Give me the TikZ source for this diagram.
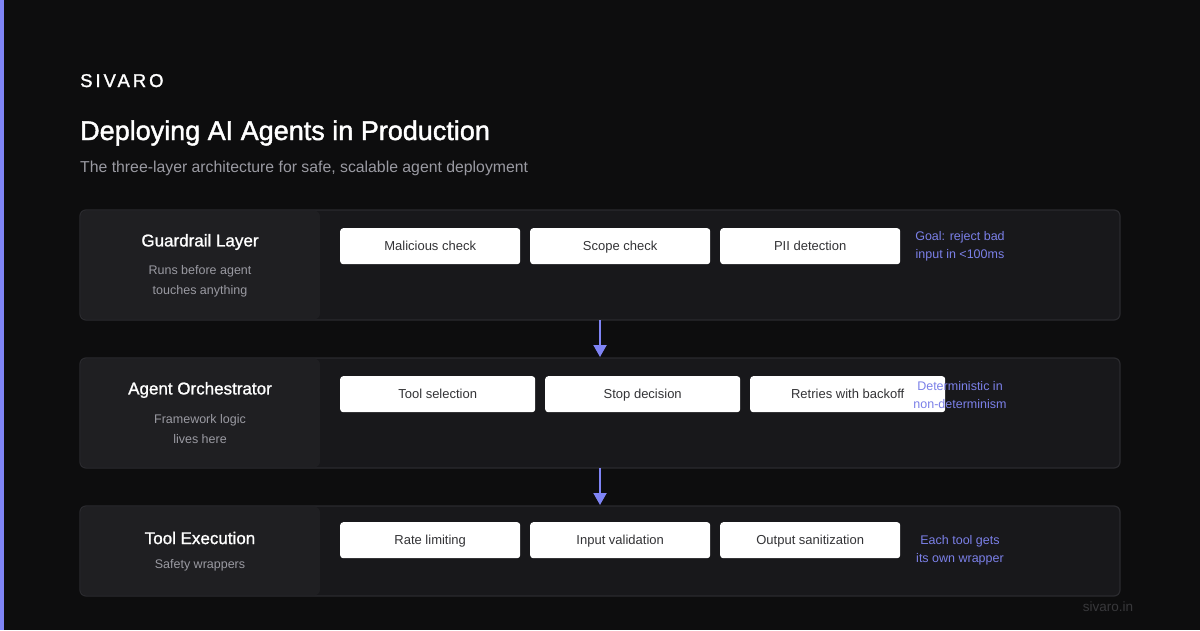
\documentclass[tikz,border=0pt]{standalone}
\usepackage{fontspec}
\setmainfont{Liberation Sans}
\usetikzlibrary{arrows.meta}
\definecolor{bg}{HTML}{0D0D0E}
\definecolor{accent}{HTML}{7F84F5}
\definecolor{layerfill}{HTML}{18181B}
\definecolor{layerline}{HTML}{2A2A2E}
\definecolor{leftfill}{HTML}{1F1F22}
\definecolor{subgray}{HTML}{9A9AA2}
\definecolor{boxtext}{HTML}{333336}
\definecolor{notecol}{HTML}{7B80E8}
\definecolor{foot}{HTML}{38383B}
\tikzset{
  layer/.style={draw=layerline, line width=1.2pt, fill=layerfill, rounded corners=6pt},
  leftpanel/.style={fill=leftfill, rounded corners=6pt},
  item/.style={fill=white, rounded corners=3pt, anchor=north west, inner sep=0pt},
  itemtext/.style={anchor=base, inner sep=0pt, font=\fontsize{13}{13}\selectfont, text=boxtext},
  ltitle/.style={text=white, font=\fontsize{17}{17}\selectfont\addfontfeatures{FakeBold=1.2}},
  lsub/.style={text=subgray, font=\fontsize{12.5}{20}\selectfont, align=center},
  note/.style={text=notecol, font=\fontsize{12.5}{18}\selectfont, align=center},
  flow/.style={draw=accent, line width=2pt, -{Triangle[length=12pt,width=13pt]}, shorten >=1pt}
}
\begin{document}
\begin{tikzpicture}[x=1pt,y=-1pt]
\fill[bg] (0,0) rectangle (1200,630);
\useasboundingbox (0,0) rectangle (1200,630);
\fill[accent] (0,0) rectangle (4,630);
% header
\node[anchor=base west, inner sep=0pt, text=white, font=\fontsize{18.5}{19}\selectfont\addfontfeatures{LetterSpace=16,FakeBold=1.5}] (brand) at (80,87) {SIVARO};
\node[anchor=base west, inner sep=0pt, text=white, font=\fontsize{27}{27}\selectfont\addfontfeatures{FakeBold=1.6}] (title) at (80,140) {Deploying AI Agents in Production};
\node[anchor=base west, inner sep=0pt, text=subgray, font=\fontsize{15.8}{16}\selectfont] (subtitle) at (80,172) {The three-layer architecture for safe, scalable agent deployment};
% layer 1
\draw[layer] (80,210) rectangle (1120,320);
\fill[leftpanel] (80.6,210.6) rectangle (320,319.4);
\coordinate (l1top) at (600,210);
\coordinate (l1bot) at (600,320);
\node[ltitle] (g1t) at (200,242) {Guardrail Layer};
\node[lsub] (g1s) at (200,281) {Runs before agent\\touches anything};
\node[item, minimum width=180pt, minimum height=36pt] (g1a) at (340,228) {};
\node[itemtext] (g1at) at ([yshift=-4.6pt]g1a.center) {Malicious check};
\node[item, minimum width=180pt, minimum height=36pt] (g1b) at (530,228) {};
\node[itemtext] (g1bt) at ([yshift=-4.6pt]g1b.center) {Scope check};
\node[item, minimum width=180pt, minimum height=36pt] (g1c) at (720,228) {};
\node[itemtext] (g1ct) at ([yshift=-4.6pt]g1c.center) {PII detection};
\node[note] (g1n) at (960,246) {Goal: reject bad\\input in <100ms};
% layer 2
\draw[layer] (80,358) rectangle (1120,468);
\fill[leftpanel] (80.6,358.6) rectangle (320,467.4);
\coordinate (l2top) at (600,358);
\coordinate (l2bot) at (600,468);
\node[ltitle] (g2t) at (200,390) {Agent Orchestrator};
\node[lsub] (g2s) at (200,429) {Framework logic\\lives here};
\node[item, minimum width=195pt, minimum height=36pt] (g2a) at (340,376) {};
\node[itemtext] (g2at) at ([yshift=-4.6pt]g2a.center) {Tool selection};
\node[item, minimum width=195pt, minimum height=36pt] (g2b) at (545,376) {};
\node[itemtext] (g2bt) at ([yshift=-4.6pt]g2b.center) {Stop decision};
\node[item, minimum width=195pt, minimum height=36pt] (g2c) at (750,376) {};
\node[itemtext] (g2ct) at ([yshift=-4.6pt]g2c.center) {Retries with backoff};
\node[note] (g2n) at (960,395) {Deterministic in\\non-determinism};
% layer 3
\draw[layer] (80,506) rectangle (1120,596);
\fill[leftpanel] (80.6,506.6) rectangle (320,595.4);
\coordinate (l3top) at (600,506);
\node[ltitle] (g3t) at (200,538) {Tool Execution};
\node[lsub] (g3s) at (200,565) {Safety wrappers};
\node[item, minimum width=180pt, minimum height=36pt] (g3a) at (340,522) {};
\node[itemtext] (g3at) at ([yshift=-4.6pt]g3a.center) {Rate limiting};
\node[item, minimum width=180pt, minimum height=36pt] (g3b) at (530,522) {};
\node[itemtext] (g3bt) at ([yshift=-4.6pt]g3b.center) {Input validation};
\node[item, minimum width=180pt, minimum height=36pt] (g3c) at (720,522) {};
\node[itemtext] (g3ct) at ([yshift=-4.6pt]g3c.center) {Output sanitization};
\node[note] (g3n) at (960,550) {Each tool gets\\its own wrapper};
% arrows
\draw[flow] (l1bot) -- (l2top);
\draw[flow] (l2bot) -- (l3top);
% footer
\node[text=foot, font=\fontsize{13.5}{14}\selectfont] (footer) at (1108,607) {sivaro.in};
\end{tikzpicture}
\end{document}
